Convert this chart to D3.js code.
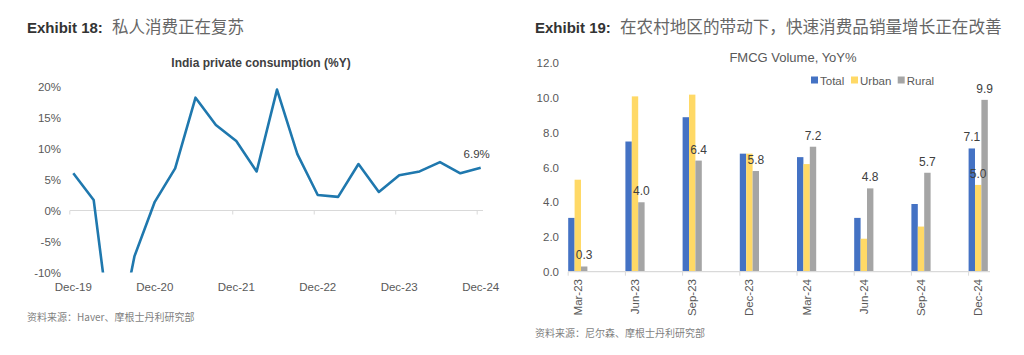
<!DOCTYPE html>
<html><head><meta charset="utf-8">
<script src="https://cdn.jsdelivr.net/npm/d3@7"></script>
<style>
html,body{margin:0;padding:0;background:#fff;}
text{font-family:"Liberation Sans",Arial,"Noto Sans CJK SC",sans-serif;}
.cjk{font-family:"Noto Sans CJK SC","Liberation Sans",sans-serif;}
</style></head>
<body><svg id="c" width="1024" height="355"></svg>
<script>
// ---- Left chart data: India private consumption (%Y)
const quarters = ["Dec-19","Mar-20","Jun-20","Sep-20","Dec-20","Mar-21","Jun-21","Sep-21","Dec-21","Mar-22","Jun-22","Sep-22","Dec-22","Mar-23","Jun-23","Sep-23","Dec-23","Mar-24","Jun-24","Sep-24","Dec-24"];
const consumption = [6.0,1.7,-24.0,-7.4,1.4,6.8,18.2,13.8,11.2,6.3,19.5,9.1,2.5,2.2,7.5,3.0,5.7,6.3,7.8,6.0,6.9];
const leftTickLabels = ["Dec-19","Dec-20","Dec-21","Dec-22","Dec-23","Dec-24"];
const leftYTicks = [-10,-5,0,5,10,15,20];

// ---- Right chart data: FMCG Volume, YoY%
const periods = ["Mar-23","Jun-23","Sep-23","Dec-23","Mar-24","Jun-24","Sep-24","Dec-24"];
const seriesNames = ["Total","Urban","Rural"];
const totalVals = [3.1,7.5,8.9,6.8,6.6,3.1,3.9,7.1];
const urbanVals = [5.3,10.1,10.2,6.8,6.2,1.9,2.6,5.0];
const ruralVals = [0.3,4.0,6.4,5.8,7.2,4.8,5.7,9.9];
const rightYTicks = [0,2,4,6,8,10,12];

const svg = d3.select("#c");
const colors = {Total:"#4472C4", Urban:"#FFD966", Rural:"#A5A5A5"};

// ---- Headers
function header(x, bold, cn, cnX, cnSize){
  svg.append("text").attr("x",x).attr("y",33).attr("font-family","Roboto, 'Liberation Sans', sans-serif")
    .attr("font-weight","bold").attr("font-size",15).attr("fill","#333").text(bold);
  svg.append("text").attr("class","cjk").attr("x",cnX).attr("y",33).attr("font-size",cnSize)
    .attr("fill","#666").text(cn);
}
header(27,"Exhibit 18:","私人消费正在复苏",112,16.5);
header(535,"Exhibit 19:","在农村地区的带动下，快速消费品销量增长正在改善",620,16.6);

// ---- Left chart
const xL = d3.scaleLinear().domain([0, quarters.length-1]).range([73.3, 480.7]);
const yL = d3.scaleLinear().domain([-10, 20]).range([272.5, 86.5]);

svg.append("text").attr("x",261).attr("y",67).attr("text-anchor","middle")
  .attr("font-weight","bold").attr("font-size",12).attr("fill","#404040")
  .text("India private consumption (%Y)");

const gyL = svg.append("g");
leftYTicks.forEach(t=>{
  gyL.append("text").attr("x",61).attr("y",yL(t)).attr("dy","0.35em").attr("text-anchor","end")
    .attr("font-size",11.5).attr("fill","#595959").text(t+"%");
});
// zero axis line
svg.append("line").attr("x1",70).attr("x2",483).attr("y1",yL(0)).attr("y2",yL(0))
  .attr("stroke","#d9d9d9").attr("stroke-width",1.2);
leftTickLabels.forEach(lab=>{
  const i = quarters.indexOf(lab);
  const x = xL(i);
  svg.append("line").attr("x1",x-3.5).attr("x2",x-3.5).attr("y1",yL(0)).attr("y2",yL(0)+4)
    .attr("stroke","#d9d9d9").attr("stroke-width",1);
  svg.append("text").attr("x",x).attr("y",291).attr("text-anchor","middle")
    .attr("font-size",11.5).attr("fill","#595959").text(lab);
});

svg.append("defs").append("clipPath").attr("id","clipL").append("rect")
  .attr("x",60).attr("y",70).attr("width",440).attr("height",yL(-10)-70);
const line = d3.line().x((d,i)=>xL(i)).y(d=>yL(d));
svg.append("path").datum(consumption).attr("d",line).attr("clip-path","url(#clipL)")
  .attr("fill","none").attr("stroke","#1F78AE").attr("stroke-width",2.6).attr("stroke-linejoin","round");
svg.append("text").attr("x",xL(quarters.length-1)-4).attr("y",yL(consumption[consumption.length-1])-10)
  .attr("text-anchor","middle").attr("font-size",11.5).attr("fill","#404040")
  .text(consumption[consumption.length-1].toFixed(1)+"%");

// source left
svg.append("text").attr("class","cjk").attr("x",27).attr("y",321).attr("font-size",10)
  .attr("fill","#7f7f7f").text("资料来源：Haver、摩根士丹利研究部");

// ---- Right chart
const yR = d3.scaleLinear().domain([0,12]).range([271.7, 63.4]);
const xR = d3.scalePoint().domain(periods).range([577.8, 978.2]);
const barW = 6.4;
const offsets = {Total:-barW*1.5, Urban:-barW*0.5, Rural:barW*0.5};
const valsBy = {Total:totalVals, Urban:urbanVals, Rural:ruralVals};

rightYTicks.forEach(t=>{
  svg.append("text").attr("x",559).attr("y",yR(t)).attr("dy","0.35em").attr("text-anchor","end")
    .attr("font-size",11.5).attr("fill","#595959").text(t.toFixed(1));
});

svg.append("text").attr("x",793).attr("y",62).attr("text-anchor","middle")
  .attr("font-size",13).attr("fill","#595959").text("FMCG Volume, YoY%");

seriesNames.forEach(s=>{
  svg.append("g").selectAll("rect").data(valsBy[s]).join("rect")
    .attr("x",(d,i)=>xR(periods[i])+offsets[s])
    .attr("y",d=>yR(d)).attr("width",barW).attr("height",d=>yR(0)-yR(d))
    .attr("fill",colors[s]);
});

svg.append("line").attr("x1",568).attr("x2",990).attr("y1",yR(0)).attr("y2",yR(0))
  .attr("stroke","#d9d9d9").attr("stroke-width",1.2);
periods.forEach(p=>{
  const x = xR(p);
  svg.append("line").attr("x1",x-9.6).attr("x2",x-9.6).attr("y1",yR(0)).attr("y2",yR(0)+4)
    .attr("stroke","#d9d9d9").attr("stroke-width",1);
  svg.append("text").attr("transform",`translate(${x},279) rotate(-90)`).attr("dy","0.35em")
    .attr("text-anchor","end").attr("font-size",11.5).attr("fill","#595959").text(p);
});

// data labels
function dlabel(s, i){
  const v = valsBy[s][i];
  const x = xR(periods[i]) + offsets[s] + barW/2;
  svg.append("text").attr("x",x).attr("y",yR(v)-7).attr("text-anchor","middle")
    .attr("font-size",12).attr("fill","#404040").text(v.toFixed(1));
}
ruralVals.forEach((v,i)=>dlabel("Rural",i));
dlabel("Total",7);
dlabel("Urban",7);

// legend
const legX = {Total:811, Urban:851, Rural:897.7};
seriesNames.forEach(s=>{
  svg.append("rect").attr("x",legX[s]).attr("y",76.5).attr("width",7).attr("height",7).attr("fill",colors[s]);
  svg.append("text").attr("x",legX[s]+9).attr("y",84.5).attr("font-size",11.5).attr("fill","#595959").text(s);
});

svg.append("text").attr("class","cjk").attr("x",535).attr("y",337).attr("font-size",10)
  .attr("fill","#7f7f7f").text("资料来源：尼尔森、摩根士丹利研究部");
</script></body></html>
